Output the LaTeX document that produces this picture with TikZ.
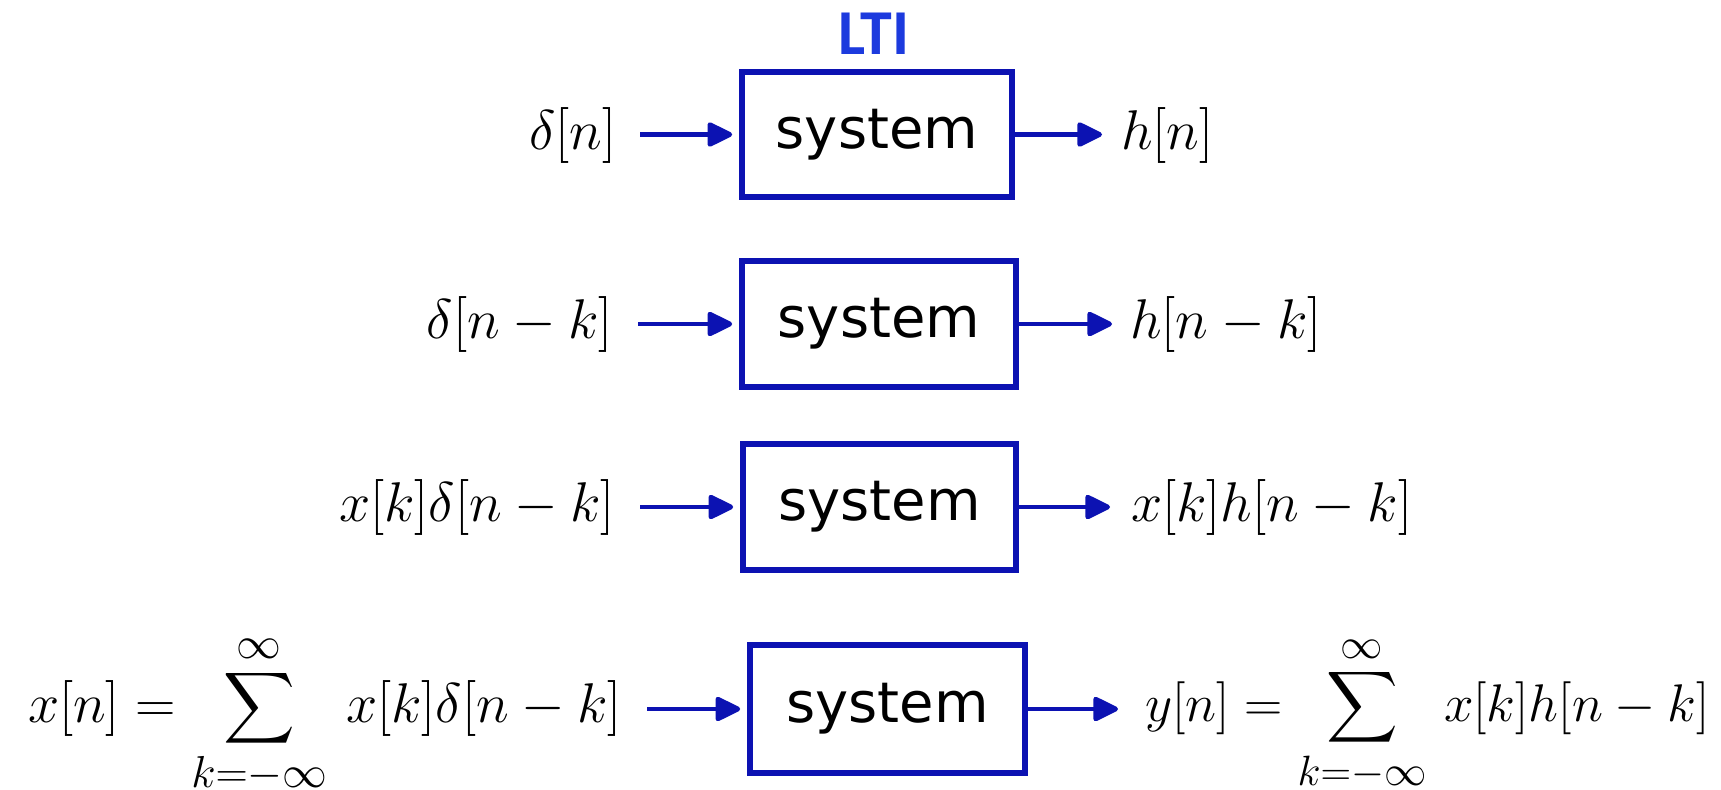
\RequirePackage{fix-cm}
\documentclass[tikz,border=0pt]{standalone}
\usepackage{exscale}
\usepackage{fontspec}
\newfontfamily\sysfont{DejaVu Sans}
\newfontfamily\ltifont{Carlito}
\usetikzlibrary{arrows.meta,calc}
\DeclareMathSizes{28}{28}{22.4}{16.8}
\DeclareMathSizes{26.5}{26.5}{21.2}{15.9}
\definecolor{boxblue}{RGB}{12,18,178}
\definecolor{ltiblue}{RGB}{28,58,222}
\begin{document}
\begin{tikzpicture}[x=0.5pt,y=-0.5pt,
  sysbox/.style={draw=boxblue, line width=2.8pt, minimum width=135pt, minimum height=62.5pt, inner sep=0pt, font=\sysfont\fontsize{28}{34}\selectfont},
  sig/.style={inner sep=0pt, font=\fontsize{28}{34}\selectfont},
  arr/.style={draw=boxblue, line width=2.4pt, -{Triangle[length=14pt,width=13pt,round]}}
]
\useasboundingbox (0,0) rectangle (1721,789);
% title
\node[font=\ltifont\bfseries\fontsize{32}{38}\selectfont, text=ltiblue, anchor=base, inner sep=0pt] (lti) at (874,54) {LTI};
% boxes
\node[sysbox] (b1) at (877,134.5) {system};
\node[sysbox, minimum width=137pt, minimum height=63pt] (b2) at (879,324) {system};
\node[sysbox, minimum width=136.5pt, minimum height=63pt] (b3) at (879.5,507) {system};
\node[sysbox, minimum width=137.5pt, minimum height=64pt] (b4) at (887.5,709) {system};
% inputs
\node[sig, anchor=base east] (i1) at (617,149) {$\delta[n]$};
\node[sig, anchor=base east] (i2) at (613,338) {$\delta[n-k]$};
\node[sig, anchor=base east] (i3) at (615,521) {$x[k]\delta[n-k]$};
\node[sig, anchor=base east] (i4) at (622,722) {$\displaystyle x[n] = \sum_{k=-\infty}^{\infty}\, x[k]\delta[n-k]$};
% outputs
\node[sig, anchor=base west] (o1) at (1121,149) {$h[n]$};
\node[sig, anchor=base west] (o2) at (1130,338) {$h[n-k]$};
\node[sig, anchor=base west] (o3) at (1131,521) {$x[k]h[n-k]$};
\node[sig, anchor=base west, font=\fontsize{26.5}{32}\selectfont] (o4) at (1145,721) {$\displaystyle y[n] = \sum_{k=-\infty}^{\infty}\, x[k]h[n-k]$};
% arrows in
\draw[arr] ($(i1.east |- b1.west)+(11.5pt,0)$) -- ($(b1.west)+(-3.5pt,0)$);
\draw[arr] ($(i2.east |- b2.west)+(12.5pt,0)$) -- ($(b2.west)+(-3.5pt,0)$);
\draw[arr] ($(i3.east |- b3.west)+(12.5pt,0)$) -- ($(b3.west)+(-3.5pt,0)$);
\draw[arr] ($(i4.east |- b4.west)+(12.5pt,0)$) -- ($(b4.west)+(-3.5pt,0)$);
% arrows out
\draw[arr] (b1.east) -- ($(o1.west |- b1.east)+(-9.5pt,0)$);
\draw[arr] (b2.east) -- ($(o2.west |- b2.east)+(-9pt,0)$);
\draw[arr] (b3.east) -- ($(o3.west |- b3.east)+(-10.5pt,0)$);
\draw[arr] (b4.east) -- ($(o4.west |- b4.east)+(-13.5pt,0)$);
\end{tikzpicture}
\end{document}
